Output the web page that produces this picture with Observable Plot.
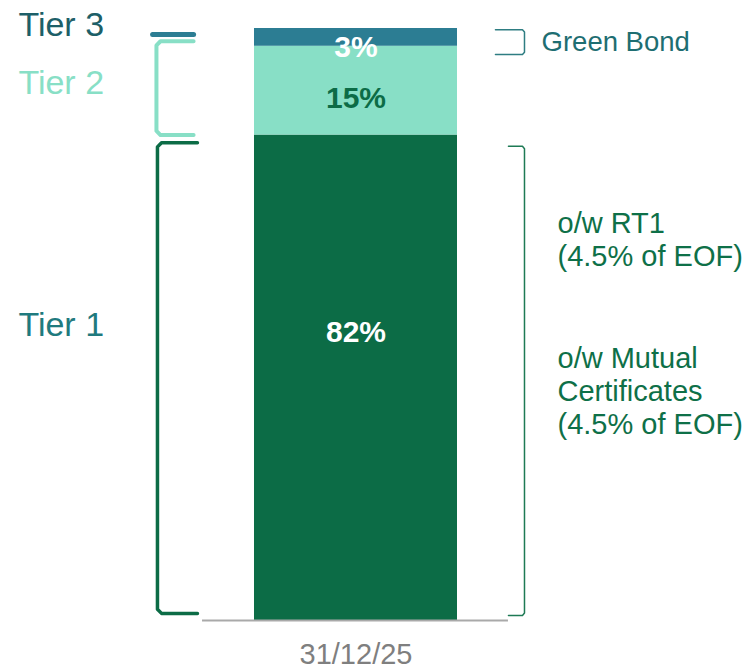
<!DOCTYPE html>
<html><head><meta charset="utf-8">
<script src="https://cdn.jsdelivr.net/npm/d3@7"></script>
<script src="https://cdn.jsdelivr.net/npm/@observablehq/plot@0.6"></script>
<style>html,body{margin:0;padding:0;background:#fff} svg{display:block}</style>
</head><body><div id="chart"></div>
<script>
// ---- data ----
const period = "31/12/25";
const tiers = ["Tier 1", "Tier 2", "Tier 3"];
const shares = [82, 15, 3];
const greenBondNote = "Green Bond";
const tier1Notes = ["o/w RT1\n(4.5% of EOF)", "o/w Mutual\nCertificates\n(4.5% of EOF)"];

// ---- styles ----
const FONT = "'Liberation Sans', Arial, Helvetica, sans-serif";
const tierColors = ["#0C6C46", "#88DFC6", "#2C7D93"];
const tierLabelColors = ["#1F7A7E", "#88DFC6", "#1D5F68"];
const valueLabelColors = ["#ffffff", "#0C6C46", "#ffffff"];

// stacked rows derived from data
let acc = 0;
const rows = tiers.map((t, i) => {
  const lo = acc; acc += shares[i];
  return {tier: t, value: shares[i], lo, hi: acc, mid: (lo + acc) / 2, label: shares[i] + "%"};
});

// bracket helper (x in bar-width units, y in % units)
function bracket(xArm, xV, top, bottom, rx = 0.02, ry = 0.7) {
  const s = Math.sign(xArm - xV);
  return [
    {x: xArm, y: top}, {x: xV + s * rx, y: top}, {x: xV, y: top - ry},
    {x: xV, y: bottom + ry}, {x: xV + s * rx, y: bottom}, {x: xArm, y: bottom}
  ];
}

const valueDy = [-36, 17, 20];

const chart = Plot.plot({
  width: 745,
  height: 669,
  marginTop: 28,
  marginBottom: 49,
  marginLeft: 0,
  marginRight: 0,
  x: {domain: [-1.2512, 2.4187], axis: null},
  y: {domain: [0, 100], axis: null},
  color: {domain: tiers, range: tierColors},
  style: {fontFamily: FONT, background: "#fff", overflow: "visible"},
  marks: [
    Plot.rect(rows, {x1: 0, x2: 1, y1: "lo", y2: "hi", fill: "tier"}),
    Plot.ruleY([0], {x1: -0.256, x2: 1.251, stroke: "#A9A9A9", strokeWidth: 2}),
    // period label
    Plot.text([period], {x: 0.5, y: 0, text: d => d, dy: 43, lineAnchor: "bottom",
      fontSize: 29, fill: "#7F7F7F"}),
    // value labels
    ...rows.map((r, i) => Plot.text([r], {x: 0.5, y: "mid", text: "label", dy: valueDy[i],
      lineAnchor: "bottom", fontSize: 30, fontWeight: "bold", fill: valueLabelColors[i]})),
    // left brackets
    Plot.line([{x: -0.502, y: 99.0}, {x: -0.300, y: 99.0}], {x: "x", y: "y",
      stroke: tierColors[2], strokeWidth: 5}),
    Plot.line(bracket(-0.300, -0.483, 97.85, 82.0), {x: "x", y: "y",
      stroke: tierColors[1], strokeWidth: 4, strokeLinejoin: "round", strokeLinecap: "round"}),
    Plot.line(bracket(-0.281, -0.478, 80.7, 1.2), {x: "x", y: "y",
      stroke: tierColors[0], strokeWidth: 3.5, strokeLinejoin: "round", strokeLinecap: "round"}),
    // right brackets
    Plot.line(bracket(1.187, 1.330, 99.8, 95.6, 0.01, 0.4), {x: "x", y: "y",
      stroke: "#2E7D82", strokeWidth: 1.5, strokeLinejoin: "round"}),
    Plot.line(bracket(1.251, 1.330, 80.1, 0.85, 0.01, 0.4), {x: "x", y: "y",
      stroke: "#1E7A55", strokeWidth: 1.5, strokeLinejoin: "round"}),
    // tier labels
    ...[48.14, 89.02, 98.65].map((yv, i) => Plot.text([tiers[i]], {x: -1.163, y: yv, text: d => d,
      textAnchor: "start", lineAnchor: "bottom", fontSize: 34, fill: tierLabelColors[i]})),
    // right notes
    Plot.text([greenBondNote], {x: 1.414, y: 96.28, text: d => d, textAnchor: "start",
      lineAnchor: "bottom", fontSize: 27.5, fill: "#1E6E72"}),
    Plot.text(tier1Notes, {x: 1.4926, y: (d, i) => [59.88, 31.42][i], text: d => d,
      textAnchor: "start", lineAnchor: "bottom", lineHeight: 1.14, fontSize: 29, fill: "#0E7048"})
  ]
});
document.getElementById("chart").appendChild(chart);
</script>
</body></html>
